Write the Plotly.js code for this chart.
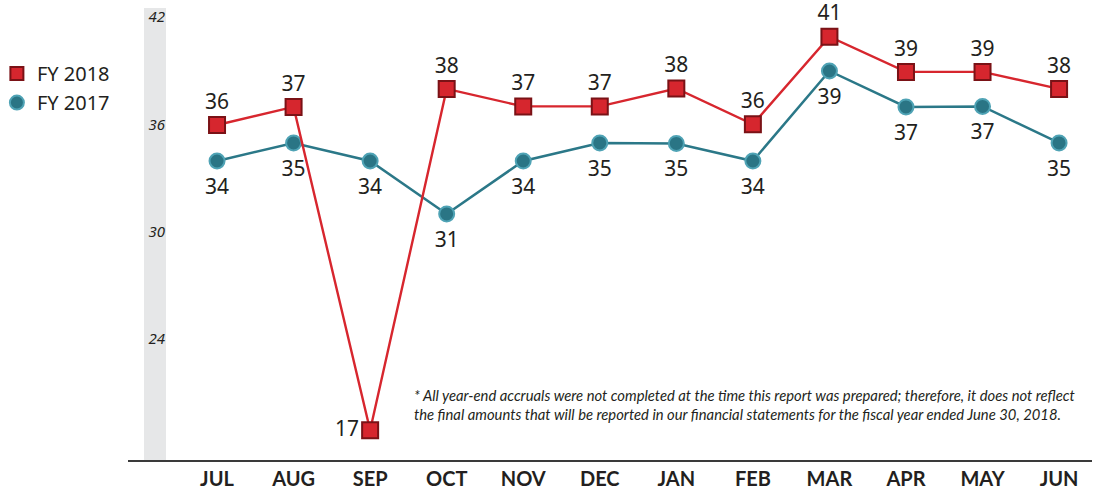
<!DOCTYPE html>
<html>
<head>
<meta charset="utf-8">
<script src="https://cdn.plot.ly/plotly-3.0.1.min.js"></script>
<style>html,body{margin:0;padding:0;background:#fff;}#chart{width:1097px;height:490px;}</style>
</head>
<body>
<div id="chart"></div>
<script>
const months = ["JUL","AUG","SEP","OCT","NOV","DEC","JAN","FEB","MAR","APR","MAY","JUN"];
const fy2018 = [35.96, 36.97, 18.9, 37.98, 37.0, 37.0, 38.0, 36.0, 40.9, 38.93, 38.93, 37.98];
const fy2018Labels = ["36","37","17","38","37","37","38","36","41","39","39","38"];
const fy2017 = [33.95, 34.96, 33.95, 30.99, 33.95, 34.96, 34.93, 33.95, 38.98, 36.97, 37.0, 34.96];
const fy2017Labels = ["34","35","34","31","34","35","35","34","39","37","37","35"];
const yTicks = [24, 30, 36, 42];
const footnote = ["* All year-end accruals were not completed at the time this report was prepared; therefore, it does not reflect",
                  "the final amounts that will be reported in our financial statements for the fiscal year ended June 30, 2018."];

const labelFont = {family: "Noto Sans, sans-serif", size: 21, color: "#231f20"};
const pos2018 = fy2018Labels.map((l, i) => i === 2 ? "middle left" : "top center");

const red = {line: "#d7262e", fill: "#d6262e", edge: "#7a1216"};
const teal = {line: "#2b7888", fill: "#2a7585", edge: "#4fa3b5"};

const traces = [
  {
    x: months, y: fy2017, type: "scatter", mode: "lines+markers", showlegend: false,
    line: {color: teal.line, width: 2.5},
    marker: {symbol: "circle", size: 15, color: teal.fill, line: {color: teal.edge, width: 2}},
    cliponaxis: false
  },
  {
    x: months, y: fy2018, type: "scatter", mode: "lines+markers", showlegend: false,
    line: {color: red.line, width: 2.4},
    marker: {symbol: "square", size: 16, color: red.fill, line: {color: red.edge, width: 2}},
    cliponaxis: false
  },
  {
    x: months, y: fy2017, type: "scatter", mode: "markers+text", showlegend: false,
    text: fy2017Labels, textposition: "bottom center", textfont: labelFont,
    marker: {size: 26, color: "rgba(0,0,0,0)", line: {width: 0}}, cliponaxis: false
  },
  {
    x: months, y: fy2018, type: "scatter", mode: "markers+text", showlegend: false,
    text: fy2018Labels, textposition: pos2018, textfont: labelFont,
    marker: {size: 16, color: "rgba(0,0,0,0)", line: {width: 0}}, cliponaxis: false
  },
  {
    x: [null], y: [null], name: "FY 2018", type: "scatter", mode: "markers",
    marker: {symbol: "square", size: 13, color: red.fill, line: {color: red.edge, width: 2}}
  },
  {
    x: [null], y: [null], name: "FY 2017", type: "scatter", mode: "markers",
    marker: {symbol: "circle", size: 14, color: teal.fill, line: {color: teal.edge, width: 2}}
  }
];

const layout = {
  width: 1097, height: 490,
  margin: {l: 128, r: 5, t: 8, b: 30, autoexpand: false},
  paper_bgcolor: "#fff", plot_bgcolor: "rgba(0,0,0,0)",
  showlegend: true,
  legend: {x: -0.136, y: 0.898, xanchor: "left", yanchor: "top", traceorder: "normal",
           font: {family: "Noto Sans, sans-serif", size: 20, color: "#231f20"},
           itemwidth: 30, tracegroupgap: 0, bgcolor: "rgba(0,0,0,0)"},
  xaxis: {
    type: "category", range: [-1.163, 11.43], showgrid: false, zeroline: false,
    showline: true, linecolor: "#3a3a3a", linewidth: 1.5,
    ticks: "", tickfont: {family: "Lato, sans-serif", size: 20, color: "#231f20", weight: "bold"},
    ticklabelstandoff: 0, fixedrange: true
  },
  yaxis: {
    range: [17.24, 42.5], tickvals: yTicks, ticktext: yTicks.map(String),
    showgrid: false, zeroline: false, showline: false, ticks: "",
    anchor: "free", position: 0.0385,
    tickfont: {family: "Noto Sans, sans-serif", size: 15, color: "#231f20", style: "italic"},
    ticklabelstandoff: 0
  },
  shapes: [
    {type: "rect", xref: "paper", yref: "paper", x0: 0.0166, x1: 0.0394, y0: 0, y1: 1,
     fillcolor: "#e6e7e8", line: {width: 0}, layer: "below"}
  ],
  annotations: [
    {xref: "paper", yref: "paper", x: 0.295, y: 0.077, xanchor: "left", yanchor: "bottom", align: "left",
     showarrow: false, text: footnote.join("<br>"),
     font: {family: "Lato, sans-serif", size: 14.8, color: "#231f20", style: "italic"}}
  ]
};

Plotly.newPlot("chart", traces, layout, {displayModeBar: false, staticPlot: true});
</script>
</body>
</html>
